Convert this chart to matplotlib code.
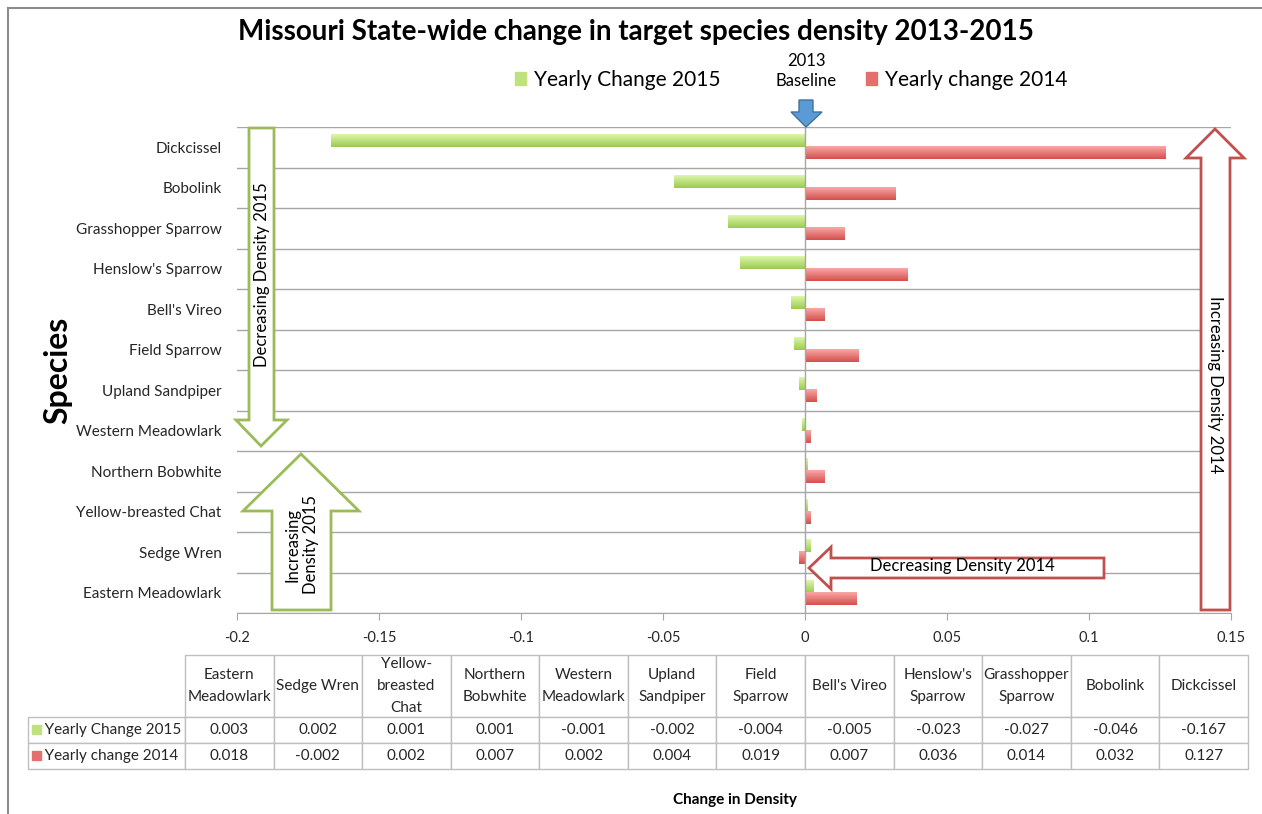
import numpy as np
import matplotlib
matplotlib.use("Agg")
import matplotlib.pyplot as plt
from matplotlib.colors import LinearSegmentedColormap
from matplotlib.patches import Polygon, Rectangle, Patch

plt.rcParams['font.family'] = ['Lato', 'DejaVu Sans']
plt.rcParams['axes.unicode_minus'] = False

# data, bottom to top as on the chart
species = ["Eastern Meadowlark", "Sedge Wren", "Yellow-breasted Chat", "Northern Bobwhite",
           "Western Meadowlark", "Upland Sandpiper", "Field Sparrow", "Bell's Vireo",
           "Henslow's Sparrow", "Grasshopper Sparrow", "Bobolink", "Dickcissel"]
table_headers = ["Eastern\nMeadowlark", "Sedge Wren", "Yellow-\nbreasted\nChat", "Northern\nBobwhite",
                 "Western\nMeadowlark", "Upland\nSandpiper", "Field\nSparrow", "Bell's Vireo",
                 "Henslow's\nSparrow", "Grasshopper\nSparrow", "Bobolink", "Dickcissel"]
change_2015 = [0.003, 0.002, 0.001, 0.001, -0.001, -0.002, -0.004, -0.005, -0.023, -0.027, -0.046, -0.167]
change_2014 = [0.018, -0.002, 0.002, 0.007, 0.002, 0.004, 0.019, 0.007, 0.036, 0.014, 0.032, 0.127]
series_names = ["Yearly Change 2015", "Yearly change 2014"]
xticks = [-0.2, -0.15, -0.1, -0.05, 0, 0.05, 0.1, 0.15]
xtick_labels = ["-0.2", "-0.15", "-0.1", "-0.05", "0", "0.05", "0.1", "0.15"]

green_cm = LinearSegmentedColormap.from_list("g", ["#9cc950", "#dcf7aa"])
red_cm = LinearSegmentedColormap.from_list("r", ["#d54f4c", "#f9a8a6"])
green_edge = "#9bbb59"
red_edge = "#c0504d"
grid_c = "#a6a6a6"

W, H = 1262, 814
fig = plt.figure(figsize=(W / 100, H / 100), dpi=100)
ax = fig.add_axes([237 / W, (H - 613) / H, 994 / W, 486 / H])

y = np.arange(len(species))
bh = 0.3
bars15 = ax.barh(y + bh / 2, change_2015, height=bh, color="#c2e482", linewidth=0, zorder=2)
bars14 = ax.barh(y - bh / 2, change_2014, height=bh, color="#e67a78", linewidth=0, zorder=2)

# gradient fill on top of each bar
grad = np.linspace(0, 1, 64).reshape(-1, 1)
for bars, cm in [(bars15, green_cm), (bars14, red_cm)]:
    for r in bars:
        x0, w = r.get_x(), r.get_width()
        y0, h = r.get_y(), r.get_height()
        ax.imshow(grad, cmap=cm, origin="lower", aspect="auto", zorder=3,
                  extent=[min(x0, x0 + w), max(x0, x0 + w), y0, y0 + h])

ax.set_xlim(-0.2, 0.15)
ax.set_ylim(-0.5, len(species) - 0.5)
ax.axvline(0, color=grid_c, lw=1, zorder=4)

ax.set_yticks(y)
ax.set_yticklabels(species, fontsize=11, color="#262626")
ax.set_yticks(np.arange(len(species) + 1) - 0.5, minor=True)
ax.tick_params(axis="y", which="both", length=0, pad=11)
ax.grid(True, axis="y", which="minor", color=grid_c, lw=1, zorder=1)

ax.set_xticks(xticks)
ax.set_xticklabels(xtick_labels, fontsize=10.5, color="#262626")
ax.tick_params(axis="x", length=5, color=grid_c, pad=8)
for s in ["left", "right", "top"]:
    ax.spines[s].set_visible(False)
ax.spines["bottom"].set_color(grid_c)

ax.set_ylabel("Species", fontsize=23, fontweight="bold")
ax.yaxis.set_label_coords(-(237 - 72) / 994, 0.5)
ax.set_xlabel("Change in Density", fontsize=11, fontweight="bold")
ax.xaxis.set_label_coords((735 - 237) / 994, -(793 - 613) / 486)

# data table under the plot; first column holds the series names
cell_text = [["   " + series_names[0]] + ["%.3f" % v for v in change_2015],
             ["   " + series_names[1]] + ["%.3f" % v for v in change_2014]]
tbl = ax.table(cellText=cell_text, colLabels=[""] + table_headers, cellLoc="center",
               bbox=[(28 - 237) / 994, -(769 - 613) / 486, (1248 - 28) / 994, 114 / 486])
tbl.auto_set_font_size(False)
for (r, c), cell in tbl.get_celld().items():
    cell.set_edgecolor("#bfbfbf")
    cell.set_linewidth(1)
    cell.get_text().set_fontsize(11)
    cell.get_text().set_color("#262626")
    cell.set_height(62 if r == 0 else 26)
    cell.set_width(157 if c == 0 else 88.6)
    if r == 0:
        cell.get_text().set_linespacing(1.7)
    if c == 0:
        cell.PAD = 0.03
        cell.get_text().set_ha("left")
        cell._loc = "left"
        if r == 0:
            cell.set_visible(False)

fig.text(636 / W, 1 - 32 / H, "Missouri State-wide change in target species density 2013-2015",
         ha="center", va="center", fontsize=20, fontweight="bold")

leg1 = fig.legend(handles=[Patch(color="#bfe27f")], labels=[series_names[0]],
                  loc="center right", bbox_to_anchor=(720 / W, 1 - 80 / H), frameon=False,
                  fontsize=15, handlelength=0.55, handleheight=0.55, handletextpad=0.35,
                  borderpad=0, borderaxespad=0)
leg2 = fig.legend(handles=[Patch(color="#e46f6d")], labels=[series_names[1]],
                  loc="center left", bbox_to_anchor=(866 / W, 1 - 80 / H), frameon=False,
                  fontsize=15, handlelength=0.55, handleheight=0.55, handletextpad=0.35,
                  borderpad=0, borderaxespad=0)
fig.text(806 / W, 1 - 71 / H, "2013\nBaseline", ha="center", va="center",
         fontsize=12, linespacing=1.3)

# overlay in pixel coords for the call-out arrows
ov = fig.add_axes([0, 0, 1, 1], zorder=5)
ov.set_xlim(0, W)
ov.set_ylim(H, 0)
ov.axis("off")
ov.patch.set_alpha(0)

def arrow(pts, ec, fc="white", lw=2):
    ov.add_patch(Polygon(pts, closed=True, ec=ec, fc=fc, lw=lw, joinstyle="miter"))

arrow([(249, 128), (274, 128), (274, 420), (287, 420), (261, 446), (236, 420), (249, 420)], green_edge)
ov.text(262, 275, "Decreasing Density 2015", rotation=90, ha="center", va="center", fontsize=12)

arrow([(301, 454), (359, 511), (331, 511), (331, 610), (272, 610), (272, 511), (243, 511)], green_edge)
ov.text(302, 545, "Increasing\nDensity 2015", rotation=90, ha="center", va="center", fontsize=12,
        linespacing=1.2)

arrow([(1215, 129), (1244, 158), (1230, 158), (1230, 610), (1201, 610), (1201, 158), (1186, 158)], red_edge)
ov.text(1215, 385, "Increasing Density 2014", rotation=270, ha="center", va="center", fontsize=12)

arrow([(809, 568), (831, 547), (831, 558), (1104, 558), (1104, 578), (831, 578), (831, 589)], red_edge)
ov.text(962, 566, "Decreasing Density 2014", ha="center", va="center", fontsize=12)

arrow([(799, 100), (813, 100), (813, 112), (822, 112), (806, 127), (791, 112), (799, 112)],
      "#41719c", fc="#5b9bd5", lw=1)

# legend keys in the table row labels
ov.add_patch(Rectangle((32, 725), 9, 9, color="#bfe27f"))
ov.add_patch(Rectangle((32, 751), 9, 9, color="#e46f6d"))

# chart frame (left and top edge visible)
ov.plot([8, 8], [8, H], color="#8c8c8c", lw=1.5)
ov.plot([8, W], [8, 8], color="#8c8c8c", lw=1.5)

fig.savefig("out.png", dpi=100)
